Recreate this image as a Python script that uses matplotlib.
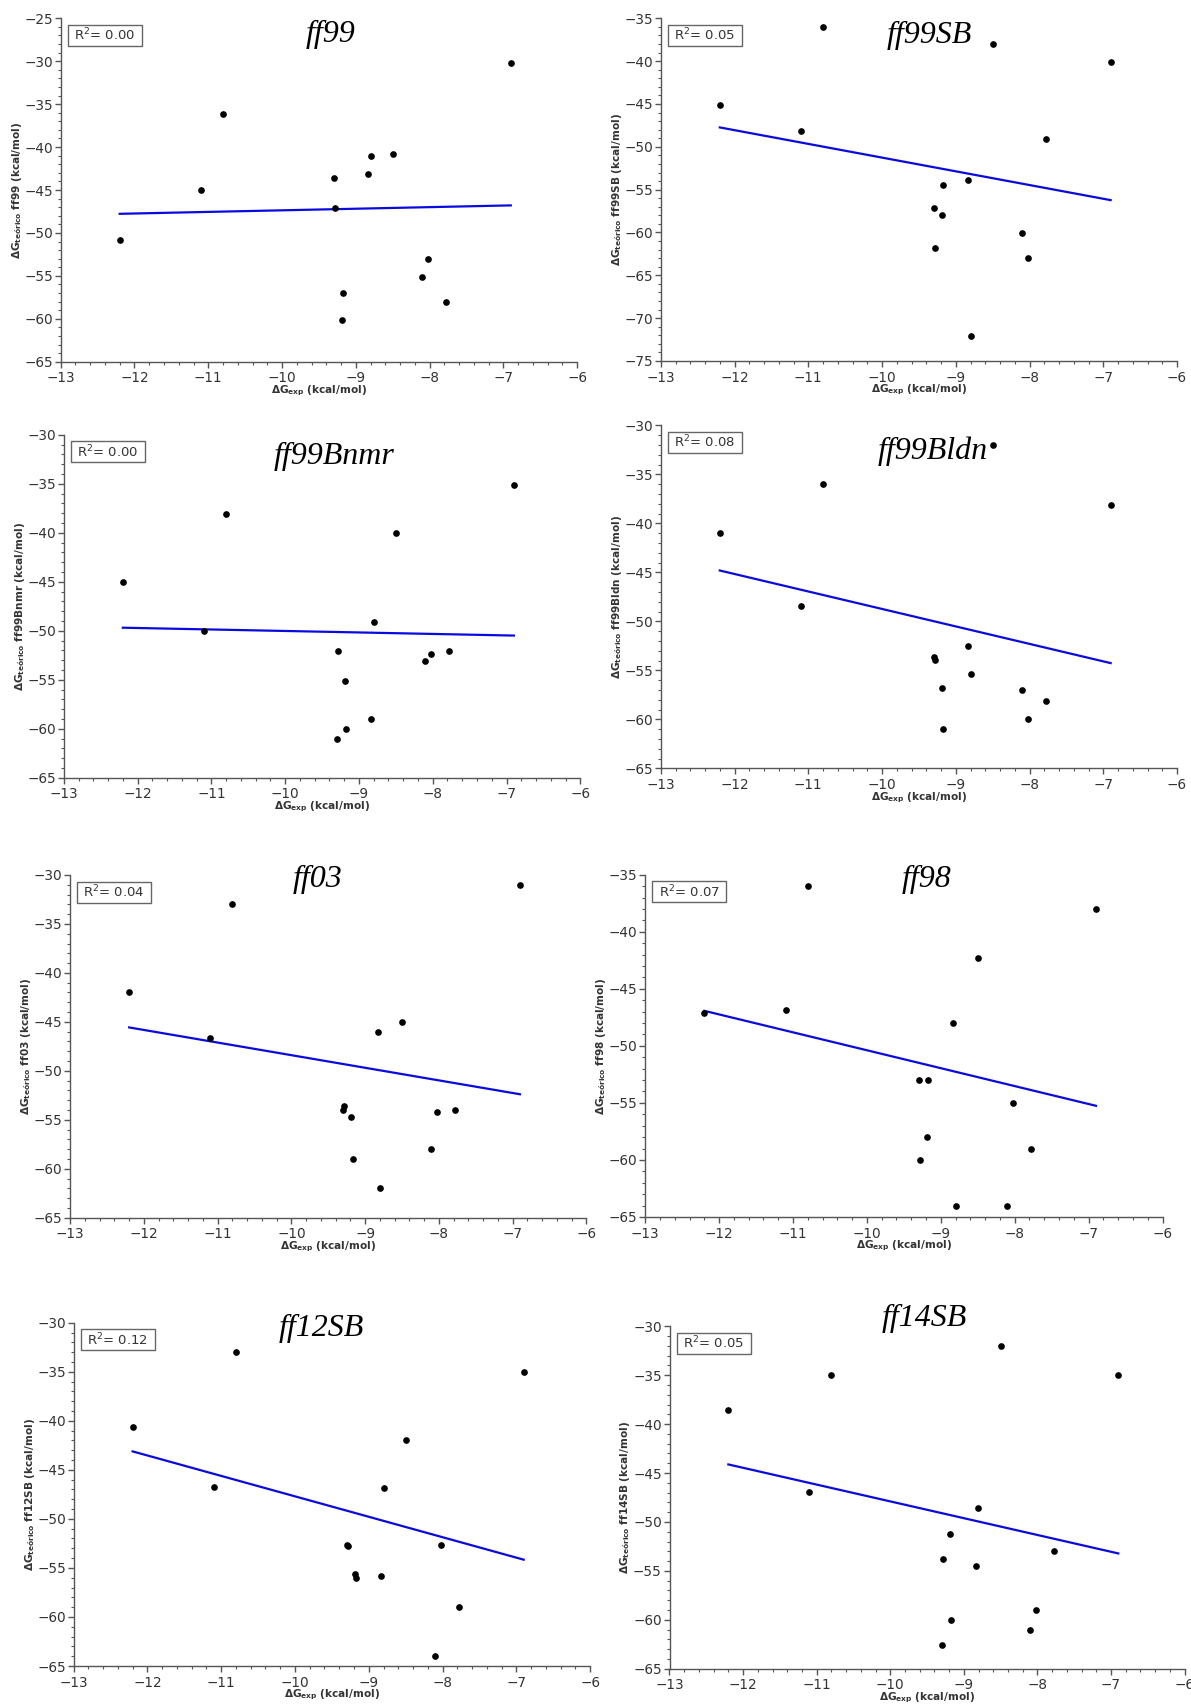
import numpy as np
import matplotlib
matplotlib.use("Agg")
import matplotlib.pyplot as plt
from matplotlib.ticker import MultipleLocator
from matplotlib.patches import Rectangle

W, H = 1191, 1704

# ---------------- data ----------------
x_exp = [-12.2, -11.1, -10.8, -9.3, -9.28, -9.19, -9.17, -8.83, -8.8, -8.5, -8.1, -8.02, -7.78, -6.9]

ff_names = ["ff99", "ff99SB", "ff99Bnmr", "ff99Bldn", "ff03", "ff98", "ff12SB", "ff14SB"]

y_ff99     = [-50.8, -45.0, -36.1, -43.6, -47.1, -60.1, -57.0, -43.1, -41.0, -40.8, -55.1, -53.0, -58.0, -30.2]
y_ff99SB   = [-45.1, -48.1, -36.0, -57.1, -61.8, -58.0, -54.5, -53.9, -72.1, -38.0, -60.1, -63.0, -49.1, -40.1]
y_ff99Bnmr = [-45.0, -50.0, -38.1, -61.1, -52.1, -55.1, -60.0, -59.0, -49.1, -40.0, -53.1, -52.4, -52.1, -35.1]
y_ff99Bldn = [-41.0, -48.4, -36.0, -53.6, -53.9, -56.8, -61.0, -52.5, -55.4, -32.0, -57.0, -60.0, -58.1, -38.1]
y_ff03     = [-42.0, -46.6, -33.0, -54.0, -53.6, -54.7, -59.0, -46.0, -62.0, -45.0, -58.0, -54.2, -54.0, -31.0]
y_ff98     = [-47.1, -46.9, -36.0, -53.0, -60.0, -58.0, -53.0, -48.0, -64.0, -42.3, -64.0, -55.0, -59.0, -38.0]
y_ff12SB   = [-40.6, -46.8, -33.0, -52.7, -52.8, -55.6, -56.0, -55.8, -46.9, -42.0, -64.0, -52.7, -59.0, -35.0]
y_ff14SB   = [-38.6, -46.9, -35.0, -62.6, -53.8, -51.2, -60.0, -54.5, -48.6, -32.0, -61.0, -59.0, -53.0, -35.0]

y_series = [y_ff99, y_ff99SB, y_ff99Bnmr, y_ff99Bldn, y_ff03, y_ff98, y_ff12SB, y_ff14SB]
r2_labels = ["0.00", "0.05", "0.00", "0.08", "0.04", "0.07", "0.12", "0.05"]
y_limits = [(-65, -25), (-75, -35), (-65, -30), (-65, -30), (-65, -30), (-65, -35), (-65, -30), (-65, -30)]
x_limits = (-13, -6)

# ---------------- layout (pixels: left, top, right, bottom) ----------------
rects = [
    (60.7, 18.3, 577.2, 361.7),
    (660.8, 18.3, 1177.0, 361.0),
    (63.8, 434.7, 580.3, 777.7),
    (660.8, 425.3, 1177.0, 768.3),
    (70.2, 875.0, 586.3, 1217.7),
    (645.2, 874.7, 1162.5, 1217.0),
    (73.6, 1322.7, 590.1, 1666.0),
    (669.5, 1326.3, 1184.5, 1668.7),
]
title_pos = [(331, 34), (929, 35), (334, 456), (933, 451),
             (318, 879), (927, 879), (321, 1328), (924, 1318)]

spine_col = "#555555"
text_col = "#333333"

fig = plt.figure(figsize=(W / 100, H / 100), dpi=100)
fig.patch.set_facecolor("white")

for i in range(8):
    l, t, r, b = rects[i]
    ax = fig.add_axes([l / W, 1 - b / H, (r - l) / W, (b - t) / H])
    x = np.array(x_exp)
    y = np.array(y_series[i])
    ax.plot(x, y, "o", color="black", markersize=3.8, clip_on=False, zorder=3)
    k, c = np.polyfit(x, y, 1)
    xl = np.array([x.min(), x.max()])
    ax.plot(xl, k * xl + c, color="#0a0ae0", lw=1.6, zorder=2)

    ax.set_xlim(*x_limits)
    ax.set_ylim(*y_limits[i])
    ax.xaxis.set_major_locator(MultipleLocator(1))
    ax.xaxis.set_minor_locator(MultipleLocator(0.2))
    ax.yaxis.set_major_locator(MultipleLocator(5))
    ax.yaxis.set_minor_locator(MultipleLocator(1))
    for s in ["top", "right"]:
        ax.spines[s].set_visible(False)
    for s in ["left", "bottom"]:
        ax.spines[s].set_color(spine_col)
        ax.spines[s].set_linewidth(1.0)
    ax.tick_params(which="major", direction="out", length=4, width=1.0,
                   color=spine_col, labelcolor=text_col, labelsize=9.8)
    ax.tick_params(which="minor", direction="out", length=2, width=0.8, color=spine_col)
    ax.tick_params(axis="y", which="major", pad=1.5)
    ax.tick_params(axis="x", which="major", pad=3)

    ax.set_xlabel(r"$\mathbf{\Delta G_{exp}}$ (kcal/mol)", fontsize=7.6,
                  fontweight="bold", color=text_col)
    ax.set_ylabel(r"$\mathbf{\Delta G_{teórico}}$ " + ff_names[i] + " (kcal/mol)",
                  fontsize=7.6, fontweight="bold", color=text_col)
    ax.xaxis.set_label_coords(0.5, -22 / (b - t))
    ax.yaxis.set_label_coords(-37 / (r - l), 0.5)

    # R^2 box
    bx, by, bw, bh = l + 7, t + 6.5, 74, 21
    fig.patches.append(Rectangle((bx / W, 1 - (by + bh) / H), bw / W, bh / H,
                                 transform=fig.transFigure, facecolor="white",
                                 edgecolor="#666666", lw=1.0, zorder=5))
    fig.text((bx + bw / 2) / W, 1 - (by + bh / 2) / H, r"R$^2$= " + r2_labels[i],
             ha="center", va="center", fontsize=9.5, color=text_col, zorder=6)

    # title
    cx, cy = title_pos[i]
    fig.text(cx / W, 1 - cy / H, ff_names[i], ha="center", va="center",
             family="Liberation Serif", style="italic", fontsize=23, color="black")

fig.savefig("out.png", dpi=100, facecolor="white")
